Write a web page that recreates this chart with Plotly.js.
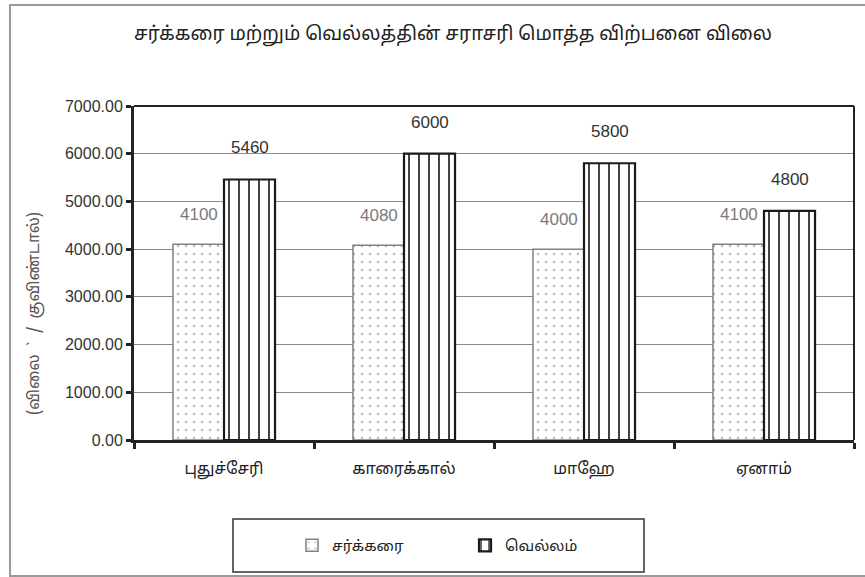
<!DOCTYPE html>
<html>
<head>
<meta charset="utf-8">
<script src="https://cdn.plot.ly/plotly-3.0.1.min.js"></script>
<style>
  html, body { margin: 0; padding: 0; background: #fff; }
  #wrap { position: relative; width: 865px; height: 577px; }
  #chart { width: 865px; height: 577px; }
  #frame { position: absolute; left: 9px; top: 4px; width: 870px; height: 573px;
           border: 2px solid #9a9a9a; pointer-events: none; box-sizing: border-box; }
</style>
</head>
<body>
<div id="wrap">
  <div id="chart"></div>
  <div id="frame"></div>
</div>
<script>
const chartTitle = 'சர்க்கரை மற்றும் வெல்லத்தின் சராசரி மொத்த விற்பனை விலை';
const yTitle = '(விலை  `  /  குவிண்டால்)';
const categories = ['புதுச்சேரி', 'காரைக்கால்', 'மாஹே', 'ஏனாம்'];
const seriesNames = ['சர்க்கரை', 'வெல்லம்'];
const sugarValues = [4100, 4080, 4000, 4100];
const jaggeryValues = [5460, 6000, 5800, 4800];
const yTickValues = [0, 1000, 2000, 3000, 4000, 5000, 6000, 7000];

const tamilFont = 'Noto Sans Tamil, Latha, Lohit Tamil, Liberation Sans, sans-serif';
const numFont = 'Liberation Sans, Arial, sans-serif';

const traces = [
  {
    type: 'bar', name: seriesNames[0], x: categories, y: sugarValues,
    marker: {
      color: '#ffffff',
      line: { color: '#808080', width: 1.5 },
      pattern: { shape: '.', fgcolor: '#b5b5b5', bgcolor: '#ffffff', size: 8, solidity: 0.07 }
    },
    hoverinfo: 'x+y'
  },
  {
    type: 'bar', name: seriesNames[1], x: categories, y: jaggeryValues,
    marker: {
      color: '#ffffff',
      line: { color: '#1a1a1a', width: 2.2 },
      pattern: { shape: '|', fgcolor: '#222222', bgcolor: '#ffffff', size: 10, solidity: 0.2, fgopacity: 0.85 }
    },
    hoverinfo: 'x+y'
  }
];

const annotations = [];
categories.forEach((c, i) => {
  annotations.push({
    x: c, y: sugarValues[i], xref: 'x', yref: 'y', xshift: -25.5, yshift: 18,
    yanchor: 'bottom', text: String(sugarValues[i]), showarrow: false,
    font: { family: numFont, size: 17, color: '#7a7a7a' }
  });
  annotations.push({
    x: c, y: jaggeryValues[i], xref: 'x', yref: 'y', xshift: 25.5, yshift: 20,
    yanchor: 'bottom', text: String(jaggeryValues[i]), showarrow: false,
    font: { family: numFont, size: 17, color: '#333333' }
  });
});
annotations.push({
  xref: 'paper', yref: 'paper', x: (35 - 134) / 720, y: (440 - 313) / 334,
  xanchor: 'center', yanchor: 'middle', textangle: -90, showarrow: false,
  text: yTitle, font: { family: tamilFont, size: 16, color: '#555555' }
});

const layout = {
  width: 865, height: 577,
  margin: { l: 134, r: 11, t: 106, b: 137 },
  paper_bgcolor: '#ffffff', plot_bgcolor: '#ffffff',
  title: {
    text: chartTitle, x: 453 / 865, xanchor: 'center', y: 1 - 33 / 577, yanchor: 'middle',
    font: { family: tamilFont, size: 19, color: '#222222' }
  },
  barmode: 'group', bargap: 0.433, bargroupgap: 0,
  showlegend: true,
  legend: {
    orientation: 'h', x: (292 - 134) / 720, xanchor: 'left', y: -0.316, yanchor: 'middle',
    font: { family: tamilFont, size: 15, color: '#222222' },
    bgcolor: 'rgba(0,0,0,0)', borderwidth: 0, itemwidth: 30, entrywidth: 128,
    itemclick: false
  },
  xaxis: {
    type: 'category', showline: true, linecolor: '#222222', linewidth: 3,
    mirror: false, ticks: 'outside', tickson: 'boundaries', ticklen: 6, tickwidth: 3,
    tickcolor: '#222222', showgrid: false, zeroline: false, ticklabelstandoff: 12,
    tickfont: { family: tamilFont, size: 16, color: '#222222' }
  },
  yaxis: {
    range: [0, 7000], tickvals: yTickValues,
    ticktext: yTickValues.map(v => v.toFixed(2)),
    showline: true, linecolor: '#222222', linewidth: 3,
    ticks: 'outside', ticklen: 5, tickwidth: 3, tickcolor: '#222222',
    showgrid: true, gridcolor: '#8a8a8a', gridwidth: 1, zeroline: false,
    tickfont: { family: numFont, size: 16, color: '#333333' }
  },
  shapes: [
    { type: 'line', xref: 'paper', yref: 'paper', x0: 0, x1: 1, y0: 1, y1: 1, line: { color: '#222222', width: 2 } },
    { type: 'line', xref: 'paper', yref: 'paper', x0: 1, x1: 1, y0: 0, y1: 1, line: { color: '#222222', width: 2 } },
    { type: 'rect', xref: 'paper', yref: 'paper', x0: (233 - 134) / 720, x1: (644 - 134) / 720,
      y0: (440 - 572) / 334, y1: (440 - 519) / 334, line: { color: '#333333', width: 1.5 } }
  ],
  annotations: annotations
};

Plotly.newPlot('chart', traces, layout, { displayModeBar: false, staticPlot: true });
</script>
</body>
</html>
